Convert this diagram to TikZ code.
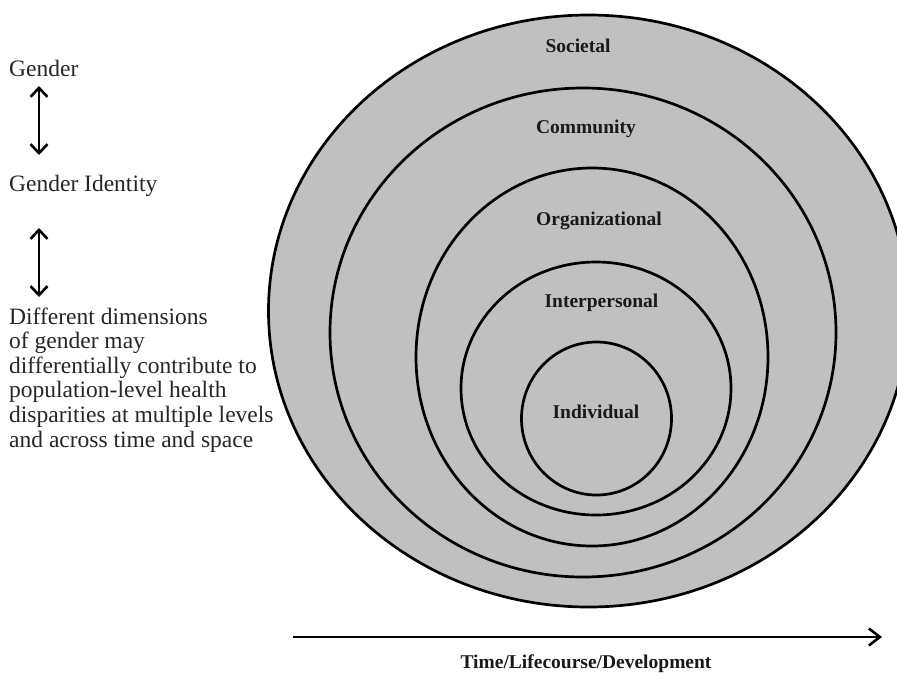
\documentclass[tikz,border=0pt]{standalone}
\usepackage{fontspec}
\setmainfont{Liberation Serif}
\usetikzlibrary{arrows.meta}
\definecolor{ringfill}{RGB}{192,192,192}

\begin{document}
\begin{tikzpicture}[x=1pt, y=-1pt,
  ring/.style={draw=black, line width=2.7pt, fill=ringfill},
  level/.style={font=\fontsize{19.5}{22}\selectfont\bfseries, text=black!90, inner sep=0pt, anchor=base},
  side/.style={font=\fontsize{23.5}{24.6}\selectfont, text=black!85, inner sep=0pt, anchor=base west, align=left},
  link/.style={line width=2.6pt, {Straight Barb[length=9pt,width=17pt]}-{Straight Barb[length=9pt,width=17pt]}}]
\useasboundingbox (0,0) rectangle (897,681);
\clip (0,0) rectangle (897,681);

% Draw the rings, outermost first
\draw[ring] (588.5,311) ellipse [x radius=320, y radius=296];
\draw[ring] (583,332.5) ellipse [x radius=253, y radius=244.5];
\draw[ring] (592,357) ellipse [x radius=176, y radius=189];
\draw[ring] (596,388.5) ellipse [x radius=135, y radius=126.5];
\draw[ring] (596.5,418.5) ellipse [x radius=75, y radius=76.5];

% Insert the level names
\node[level] (societal) at (578,52) {Societal};
\node[level] (community) at (586,133) {Community};
\node[level] (organizational) at (599,225) {Organizational};
\node[level] (interpersonal) at (601.5,307) {Interpersonal};
\node[level] (individual) at (596,418) {Individual};

% Gender dimensions on the left (a multi-line node sits on its last line)
\node[side] (gender) at (9,76) {Gender};
\node[side] (identity) at (9,191) {Gender Identity};
\node[side] (dims) at (9,447) {Different dimensions\\of gender may\\differentially contribute to\\population-level health\\disparities at multiple levels\\and across time and space};

\coordinate (up1) at (39,86);
\coordinate (down1) at (39,155);
\coordinate (up2) at (39,228);
\coordinate (down2) at (39,297);
\draw[link] (up1) -- (down1);
\draw[link] (up2) -- (down2);

% Time axis under the rings
\coordinate (tstart) at (293,637);
\coordinate (tend) at (882,637);
\draw[line width=2.6pt, -{Straight Barb[length=11pt,width=17pt]}] (tstart) -- (tend);
\node[level] (time) at (586,668) {Time/Lifecourse/Development};
\end{tikzpicture}
\end{document}
